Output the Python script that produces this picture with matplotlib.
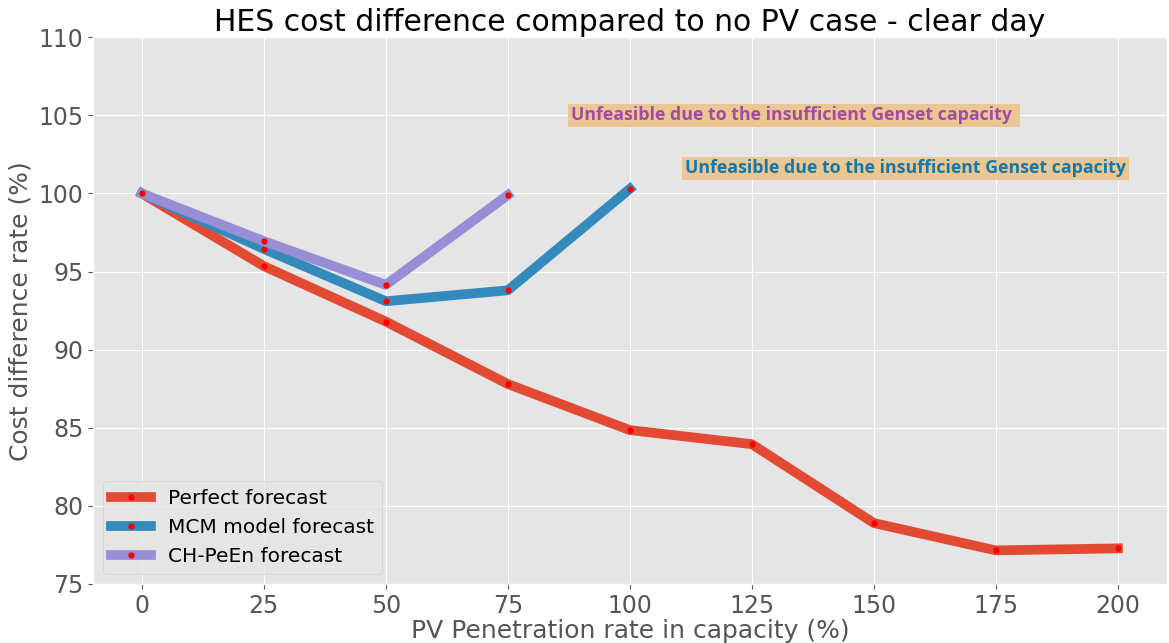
import matplotlib
matplotlib.use('Agg')
from matplotlib import pyplot as plt

plt.style.use('ggplot')

pv_perfect = [0, 25, 50, 75, 100, 125, 150, 175, 200]
cost_perfect = [100.0, 95.35, 91.8, 87.8, 84.85, 83.95, 78.9, 77.15, 77.28]
pv_mcm = [0, 25, 50, 75, 100]
cost_mcm = [100.0, 96.45, 93.1, 93.8, 100.3]
pv_chpeen = [0, 25, 50, 75]
cost_chpeen = [100.0, 96.95, 94.15, 99.9]

labels = ['Perfect forecast', 'MCM model forecast', 'CH-PeEn forecast']
colors = ['#E24A33', '#348ABD', '#988ED5']

fig = plt.figure(figsize=(11.69, 6.43), dpi=100)
ax = fig.add_subplot(111)
fig.subplots_adjust(left=0.0796, right=0.998, top=0.942, bottom=0.0918)

for x, y, lab, col in zip([pv_perfect, pv_mcm, pv_chpeen],
                          [cost_perfect, cost_mcm, cost_chpeen], labels, colors):
    ax.plot(x, y, color=col, linewidth=7, label=lab,
            marker='.', markersize=7, markerfacecolor='red', markeredgecolor='red')

ax.text(88, 105, 'Unfeasible due to the insufficient Genset capacity ',
        color='#A44AA8', fontsize=12.8, fontweight='bold', family='Open Sans',
        va='center', bbox=dict(facecolor='#EBC794', edgecolor='none', pad=2))
ax.text(111.3, 101.6, 'Unfeasible due to the insufficient Genset capacity',
        color='#1479A8', fontsize=12.8, fontweight='bold', family='Open Sans',
        va='center', bbox=dict(facecolor='#EBC794', edgecolor='none', pad=2))

ax.set_xlim(-10, 210)
ax.set_ylim(75, 110)
ax.set_xticks(range(0, 201, 25))
ax.set_yticks(range(75, 111, 5))
ax.tick_params(labelsize=17)
ax.set_title('HES cost difference compared to no PV case - clear day', fontsize=21.5, pad=4)
ax.set_xlabel('PV Penetration rate in capacity (%)', fontsize=18, labelpad=1)
ax.set_ylabel('Cost difference rate (%)', fontsize=18)
ax.legend(loc='lower left', fontsize=14.5)

plt.savefig('out.png', dpi=100)
